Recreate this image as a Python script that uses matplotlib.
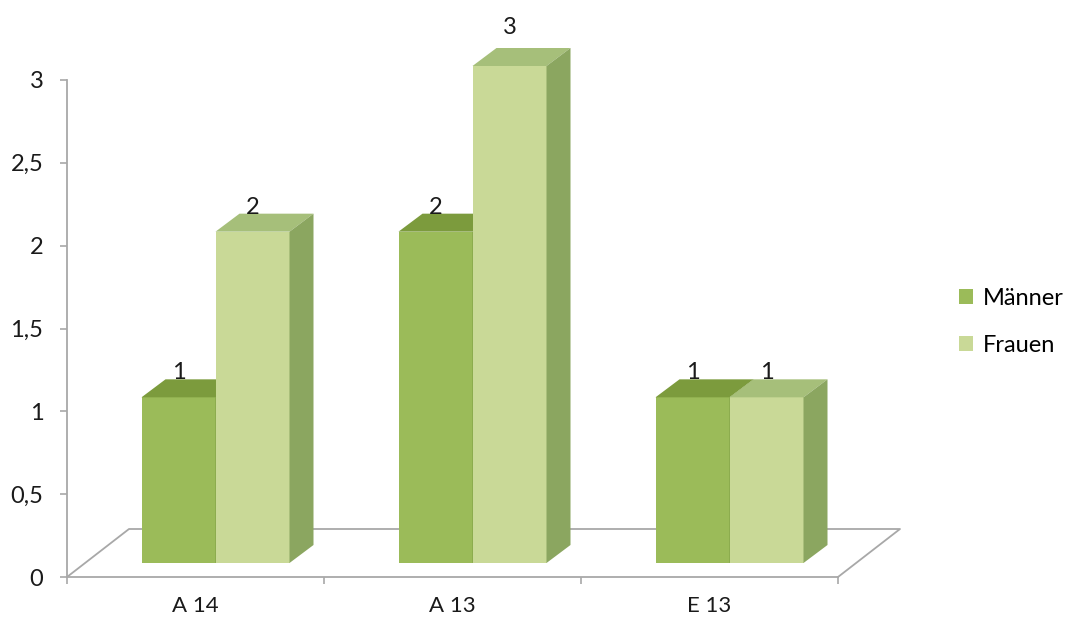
import matplotlib
matplotlib.use('Agg')
import numpy as np
from matplotlib import pyplot as plt
from matplotlib.patches import Polygon, Patch

# data
categories = ['A 14', 'A 13', 'E 13']
series_names = ['Männer', 'Frauen']
maenner = [1, 2, 1]
frauen = [2, 3, 1]
y_ticks = [0, 0.5, 1, 1.5, 2, 2.5, 3]
y_tick_labels = ['0', '0,5', '1', '1,5', '2', '2,5', '3']

# colours: front, top, side
colors = {
    'Männer': ('#9bbb59', '#7c9b3d', '#7e9e45'),
    'Frauen': ('#c9d997', '#a6bf7a', '#8ba660'),
}
axis_color = '#a8a8a8'

plt.rcParams['font.family'] = ['Lato', 'DejaVu Sans']

W, H = 1065, 621
fig = plt.figure(figsize=(W / 100, H / 100), dpi=100)
ax = fig.add_axes([67 / W, 1 - 577 / H, 771 / W, 497 / H])
ax.set_xlim(-0.5, len(categories) - 0.5)
ax.set_ylim(0, 3)

# pixel -> data helpers
px_x = (len(categories)) / 771.0
px_y = 3 / 497.0

# floor (depth of the plot) and bar depth, in pixels
floor_dx, floor_dy = 62 * px_x, 48 * px_y
bar_dx, bar_dy = 24 * px_x, 18 * px_y
base = 14 * px_y           # bar front sits a bit behind the axis line
bar_w = 74 * px_x
shift = 20 * px_x          # group shifted right by the depth

# floor outline
x0, x1 = -0.5, len(categories) - 0.5
ax.plot([x0, x0 + floor_dx, x1 + floor_dx, x1],
        [0, floor_dy, floor_dy, 0],
        color=axis_color, lw=1.3, zorder=1, clip_on=False)

x = np.arange(len(categories))
for k, (name, vals) in enumerate(zip(series_names, [maenner, frauen])):
    front, top, side = colors[name]
    left = x + shift - bar_w + k * bar_w
    z = 2 + 2 * k
    ax.bar(left, vals, width=bar_w, bottom=base, align='edge',
           color=front, zorder=z, clip_on=False, linewidth=0)
    for l, v in zip(left, vals):
        t = base + v
        r = l + bar_w
        ax.add_patch(Polygon([(l, t), (l + bar_dx, t + bar_dy), (r + bar_dx, t + bar_dy), (r, t)],
                             closed=True, color=top, lw=0, zorder=z + 0.5, clip_on=False))
        ax.add_patch(Polygon([(r, base), (r + bar_dx, base + bar_dy), (r + bar_dx, t + bar_dy), (r, t)],
                             closed=True, color=side, lw=0, zorder=z + 0.5, clip_on=False))
        extra = 14 * px_y if v == max(maenner + frauen) else 0
        ax.text(l + bar_w / 2, t + bar_dy - 4 * px_y + extra, str(v),
                ha='center', va='bottom', fontsize=17, color='#1a1a1a', zorder=10)

# axes styling
for s in ['top', 'right']:
    ax.spines[s].set_visible(False)
for s in ['left', 'bottom']:
    ax.spines[s].set_color(axis_color)
    ax.spines[s].set_linewidth(1.3)

ax.set_yticks(y_ticks)
ax.set_yticklabels(y_tick_labels)
ax.tick_params(axis='y', length=5, width=1.2, color=axis_color, pad=12,
               labelsize=17, labelcolor='#1a1a1a')

ax.set_xticks(x)
ax.set_xticklabels(categories)
ax.set_xticks(np.arange(len(categories) + 1) - 0.5, minor=True)
ax.tick_params(axis='x', which='major', length=0, pad=14, labelsize=16,
               labelcolor='#1a1a1a')
ax.tick_params(axis='x', which='minor', length=5, width=1.2, color=axis_color)
ax.set_facecolor('none')

handles = [Patch(facecolor=colors[n][0], edgecolor='none') for n in series_names]
fig.legend(handles, series_names, loc='center left',
           bbox_to_anchor=(938 / W, 1 - 322 / H), frameon=False,
           fontsize=17, handlelength=0.6, handleheight=0.6,
           handletextpad=0.4, labelspacing=1.1)

fig.savefig('out.png', dpi=100, facecolor='white')
